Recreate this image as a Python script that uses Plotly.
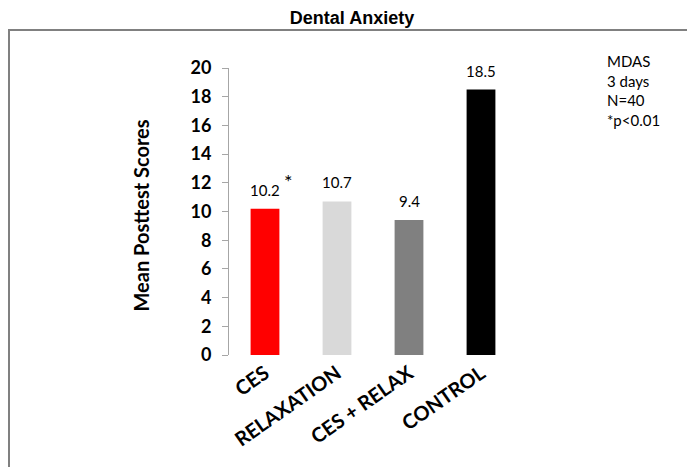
import plotly.graph_objects as go

categories = ["CES", "RELAXATION", "CES + RELAX", "CONTROL"]
values = [10.2, 10.7, 9.4, 18.5]
value_labels = ["10.2", "10.7", "9.4", "18.5"]
bar_colors = ["#FF0000", "#D9D9D9", "#808080", "#000000"]
y_ticks = [0, 2, 4, 6, 8, 10, 12, 14, 16, 18, 20]
note_lines = ["MDAS", "3 days", "N=40", "*p<0.01"]

# page body has an 8px default margin; figure sized to fit the 695x467 window
OFF = 8
W, H = 695 - OFF, 467 - OFF
L, R, T, B = 229 - OFF, 178, 68 - OFF, 112
pw = W - L - R
ph = H - T - B

fig = go.Figure()
fig.add_trace(go.Bar(
    x=categories, y=values,
    marker=dict(color=bar_colors, line=dict(width=0)),
    width=0.4, showlegend=False, hoverinfo="skip",
))

annotations = []
for c, v, t in zip(categories, values, value_labels):
    annotations.append(dict(
        x=c, y=v, xref="x", yref="y", text=t, showarrow=False,
        yanchor="bottom", yshift=8,
        font=dict(family="Lato", size=15, color="#000000"),
    ))
annotations.append(dict(
    x=categories[0], y=values[0], xref="x", yref="y", text="*", showarrow=False,
    yanchor="bottom", xshift=23, yshift=14,
    font=dict(family="Lato", size=20, color="#000000"),
))
annotations.append(dict(
    x=1, y=1, xref="paper", yref="paper", xanchor="left", yanchor="top",
    xshift=88, yshift=18, align="left", showarrow=False,
    text="<br>".join(note_lines),
    font=dict(family="Lato", size=15, color="#000000"),
))
annotations.append(dict(
    x=0, y=0.5, xref="paper", yref="paper", xanchor="center", yanchor="middle",
    xshift=-89, yshift=-4, textangle=-90, showarrow=False,
    text="<b>Mean Posttest Scores</b>",
    font=dict(family="Lato", size=20, color="#000000"),
))

shapes = [dict(
    type="rect", xref="paper", yref="paper",
    x0=(1 - L) / pw, x1=(W + 10 - L) / pw,
    y0=(H - B - (H + 10)) / ph, y1=(H - B - (30 - OFF)) / ph,
    line=dict(color="#808080", width=2), fillcolor="rgba(0,0,0,0)", layer="below",
)]

fig.update_layout(
    width=W, height=H,
    margin=dict(l=L, r=R, t=T, b=B, autoexpand=False),
    paper_bgcolor="#FFFFFF", plot_bgcolor="#FFFFFF",
    title=dict(text="<b>Dental Anxiety</b>", x=(352 - OFF) / W, xref="container", xanchor="center",
               y=1 - (18 - OFF) / H, yref="container", yanchor="middle",
               font=dict(family="Liberation Sans", size=18, color="#000000")),
    annotations=annotations, shapes=shapes,
    bargap=0.6,
)
fig.update_xaxes(
    showline=False, showgrid=False, zeroline=False, ticks="",
    tickangle=-35, tickfont=dict(family="Lato", size=20, color="#000000", weight="bold"),
    ticklabelstandoff=2,
)
fig.update_yaxes(
    range=[0, 20], tickvals=y_ticks, showgrid=False, zeroline=False,
    showline=True, linecolor="#A6A6A6", linewidth=1,
    ticks="outside", ticklen=6, tickcolor="#A6A6A6",
    tickfont=dict(family="Lato", size=18, color="#000000", weight="bold"),
    ticklabelstandoff=7,
)

fig.write_html("out.html")
